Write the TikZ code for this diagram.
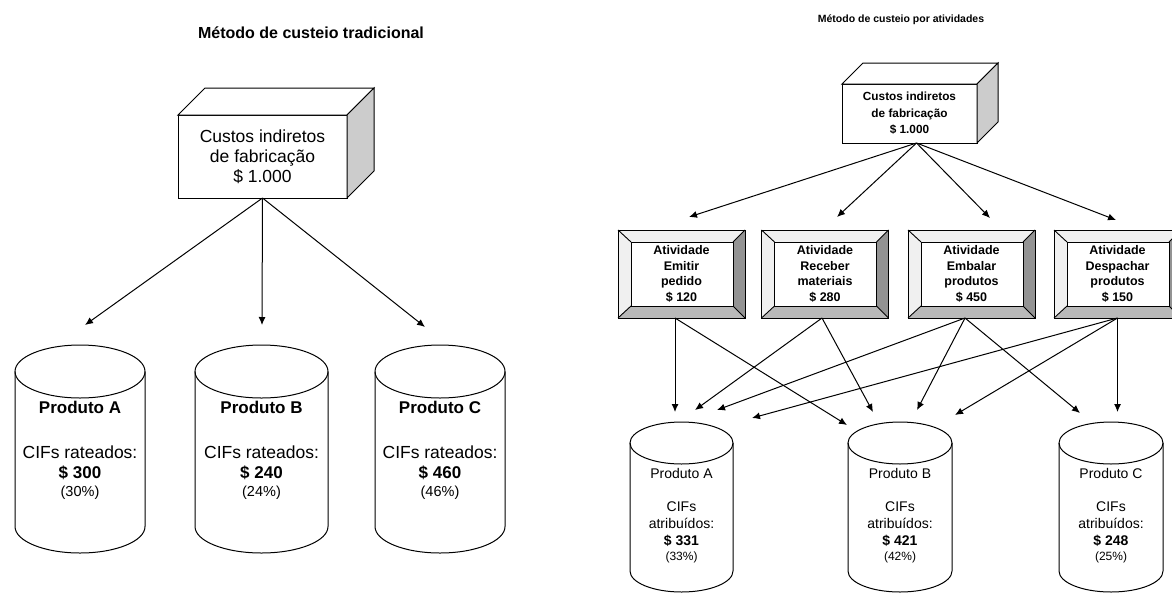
\documentclass[tikz,border=0pt]{standalone}
\usepackage{fontspec}
\setmainfont{Liberation Sans}
\usetikzlibrary{arrows.meta,calc}

\newcommand\cylshape[5]{% cx, y top centre, y bottom centre, rx, ry
  \draw[cylline] (#1-#4,#2) -- (#1-#4,#3) arc[start angle=180,end angle=360,x radius=#4pt,y radius=#5pt] -- (#1+#4,#2);
  \draw[cylline] (#1,#2) ellipse[x radius=#4pt,y radius=#5pt];
}
\newcommand\bevelbox[3]{% name, centre, text
  \node[actbox] (#1) at (#2) {#3};
  \fill[bevlight] (#1.north west) -- (#1.north east) -- ($(#1.north east)+(-12,12)$) -- ($(#1.north west)+(13,12)$) -- cycle;
  \fill[bevlight] (#1.north west) -- ($(#1.north west)+(13,12)$) -- ($(#1.south west)+(13,-12)$) -- (#1.south west) -- cycle;
  \fill[bevdark] (#1.north east) -- ($(#1.north east)+(-12,12)$) -- ($(#1.south east)+(-12,-12)$) -- (#1.south east) -- cycle;
  \fill[bevmid] (#1.south west) -- ($(#1.south west)+(13,-12)$) -- ($(#1.south east)+(-12,-12)$) -- (#1.south east) -- cycle;
  \draw[bevline] ($(#1.north west)+(13,12)$) rectangle ($(#1.south east)+(-12,-12)$);
  \draw[bevline] (#1.north west) -- ($(#1.north west)+(13,12)$)
                 (#1.north east) -- ($(#1.north east)+(-12,12)$)
                 (#1.south west) -- ($(#1.south west)+(13,-12)$)
                 (#1.south east) -- ($(#1.south east)+(-12,-12)$);
  \draw[bevline] (#1.north west) rectangle (#1.south east);
}

\tikzset{
  cylline/.style={line width=1pt, draw=black},
  boxline/.style={line width=1pt, draw=black},
  arr/.style={line width=1pt, -{Latex[length=8pt,width=7pt]}},
  bevlight/.style={fill=gray!12},
  bevdark/.style={fill=gray!85!white},
  bevmid/.style={fill=gray!55},
  bevline/.style={line width=0.9pt, draw=black},
  actbox/.style={rectangle, draw, line width=0.9pt, fill=white, minimum width=127pt, minimum height=88pt,
    inner sep=0pt, outer sep=0pt, align=center,
    font={\fontsize{12.5pt}{15.5pt}\selectfont\bfseries}},
  titleL/.style={font={\fontsize{16pt}{19pt}\selectfont\bfseries}},
  titleR/.style={font={\fontsize{10.5pt}{13pt}\selectfont\bfseries}},
  bigbox/.style={rectangle, draw, line width=1pt, fill=white, inner sep=0pt, outer sep=0pt, align=center,
    minimum width=169pt, minimum height=83pt, font={\fontsize{17.5pt}{20pt}\selectfont}},
  smallbox/.style={rectangle, draw, line width=1pt, fill=white, inner sep=0pt, outer sep=0pt, align=center,
    minimum width=135pt, minimum height=59pt, font={\fontsize{11.8pt}{16.5pt}\selectfont\bfseries}},
  txt/.style={inner sep=0pt, text height=0.72em, text depth=0pt},
  lprod/.style={txt, font={\fontsize{17pt}{20pt}\selectfont\bfseries}},
  lcif/.style={txt, font={\fontsize{17.5pt}{20pt}\selectfont}},
  lval/.style={txt, font={\fontsize{17pt}{20pt}\selectfont\bfseries}},
  lpct/.style={txt, font={\fontsize{14.5pt}{18pt}\selectfont}},
  rprod/.style={txt, font={\fontsize{14pt}{17pt}\selectfont}},
  rcif/.style={txt, font={\fontsize{14pt}{17pt}\selectfont}},
  rval/.style={txt, font={\fontsize{14pt}{17pt}\selectfont\bfseries}},
  rpct/.style={txt, font={\fontsize{12pt}{15pt}\selectfont}},
}

\begin{document}
\begin{tikzpicture}[x=1pt,y=-1pt]
\useasboundingbox (0,0) rectangle (1172,592);
\clip (0,0) rectangle (1172,592);
\fill[white] (0,0) rectangle (1172,592);

% ---------------- Left: traditional ----------------
\node[titleL] (tL) at (311,33) {Método de custeio tradicional};

\node[bigbox] (cifL) at (262.5,156.5) {Custos indiretos\\de fabricação\\\$ 1.000};
\draw[boxline, fill=white] (cifL.north west) -- ++(27,-27) -- ++(169,0) -- (cifL.north east) -- cycle;
\draw[boxline, fill=gray!40] (cifL.north east) -- ++(27,-27) -- ++(0,83) -- (cifL.south east) -- cycle;

\coordinate (lA) at (85,325);
\coordinate (lB) at (262,325);
\coordinate (lC) at (425,327);
\draw[arr] (cifL.south) -- (lA);
\draw[arr] (cifL.south) -- (lB);
\draw[arr] (cifL.south) -- (lC);

\cylshape{80}{371.5}{526.5}{65}{26.5}
\cylshape{261.5}{371.5}{526.5}{66.5}{26.5}
\cylshape{440}{371.5}{526.5}{65}{26.5}

\node[lprod] (pLA) at (80,410) {Produto A};
\node[lcif] (cLA) at (80,455) {CIFs rateados:};
\node[lval] (vLA) at (80,475) {\$ 300};
\node[lpct] (qLA) at (80,493) {(30\%)};

\node[lprod] (pLB) at (261.5,410) {Produto B};
\node[lcif] (cLB) at (261.5,455) {CIFs rateados:};
\node[lval] (vLB) at (261.5,475) {\$ 240};
\node[lpct] (qLB) at (261.5,493) {(24\%)};

\node[lprod] (pLC) at (440,410) {Produto C};
\node[lcif] (cLC) at (440,455) {CIFs rateados:};
\node[lval] (vLC) at (440,475) {\$ 460};
\node[lpct] (qLC) at (440,493) {(46\%)};

% ---------------- Right: activity based ----------------
\node[titleR] (tR) at (901,20) {Método de custeio por atividades};

\node[smallbox] (cifR) at (909.5,113.5) {Custos indiretos\\de fabricação\\\$ 1.000};
\draw[boxline, fill=white] (cifR.north west) -- ++(21,-21) -- ++(135,0) -- (cifR.north east) -- cycle;
\draw[boxline, fill=gray!40] (cifR.north east) -- ++(21,-21) -- ++(0,59) -- (cifR.south east) -- cycle;

\bevelbox{act1}{681.5,274}{Atividade\\Emitir\\pedido\\\$ 120}
\bevelbox{act2}{825,274}{Atividade\\Receber\\materiais\\\$ 280}
\bevelbox{act3}{971.5,274}{Atividade\\Embalar\\produtos\\\$ 450}
\bevelbox{act4}{1117.5,274}{Atividade\\Despachar\\produtos\\\$ 150}

\coordinate (oR) at ($(cifR.south)+(7,0)$);
\coordinate (t1) at (689,217);
\coordinate (t2) at (837,217);
\coordinate (t3) at (990,218);
\coordinate (t4) at (1116,220);
\draw[arr] (oR) -- (t1);
\draw[arr] (oR) -- (t2);
\draw[arr] (oR) -- (t3);
\draw[arr] (oR) -- (t4);

\coordinate (o1) at ($(act1.south)+(-6.5,0)$);
\coordinate (o2) at ($(act2.south)+(-3,0)$);
\coordinate (o3) at ($(act3.south)+(-6.5,0)$);
\coordinate (o4) at ($(act4.south)+(0,0)$);

\coordinate (tA1) at (675,412);
\coordinate (tA2) at (695,410);
\coordinate (tA3) at (717,410);
\coordinate (tA4) at (752,418);
\coordinate (tB1) at (847,425);
\coordinate (tB2) at (873,412);
\coordinate (tB3) at (917,410);
\coordinate (tB4) at (955,415);
\coordinate (tC3) at (1080,413);
\coordinate (tC4) at (1117.5,412);

\draw[arr] (o1) -- (tA1);
\draw[arr] (o1) -- (tB1);
\draw[arr] (o2) -- (tA2);
\draw[arr] (o2) -- (tB2);
\draw[arr] (o3) -- (tA3);
\draw[arr] (o3) -- (tB3);
\draw[arr] (o3) -- (tC3);
\draw[arr] (o4) -- (tA4);
\draw[arr] (o4) -- (tB4);
\draw[arr] (o4) -- (tC4);

\cylshape{681.5}{443}{571}{51.5}{21}
\cylshape{900}{443}{571}{52}{21}
\cylshape{1111}{443}{571}{52}{21}

\node[rprod] (pRA) at (681.5,475) {Produto A};
\node[rcif] (cRA) at (681.5,508) {CIFs};
\node[rcif] (aRA) at (681.5,525) {atribuídos:};
\node[rval] (vRA) at (681.5,542) {\$ 331};
\node[rpct] (qRA) at (681.5,557) {(33\%)};

\node[rprod] (pRB) at (900,475) {Produto B};
\node[rcif] (cRB) at (900,508) {CIFs};
\node[rcif] (aRB) at (900,525) {atribuídos:};
\node[rval] (vRB) at (900,542) {\$ 421};
\node[rpct] (qRB) at (900,557) {(42\%)};

\node[rprod] (pRC) at (1111,475) {Produto C};
\node[rcif] (cRC) at (1111,508) {CIFs};
\node[rcif] (aRC) at (1111,525) {atribuídos:};
\node[rval] (vRC) at (1111,542) {\$ 248};
\node[rpct] (qRC) at (1111,557) {(25\%)};
\end{tikzpicture}
\end{document}
